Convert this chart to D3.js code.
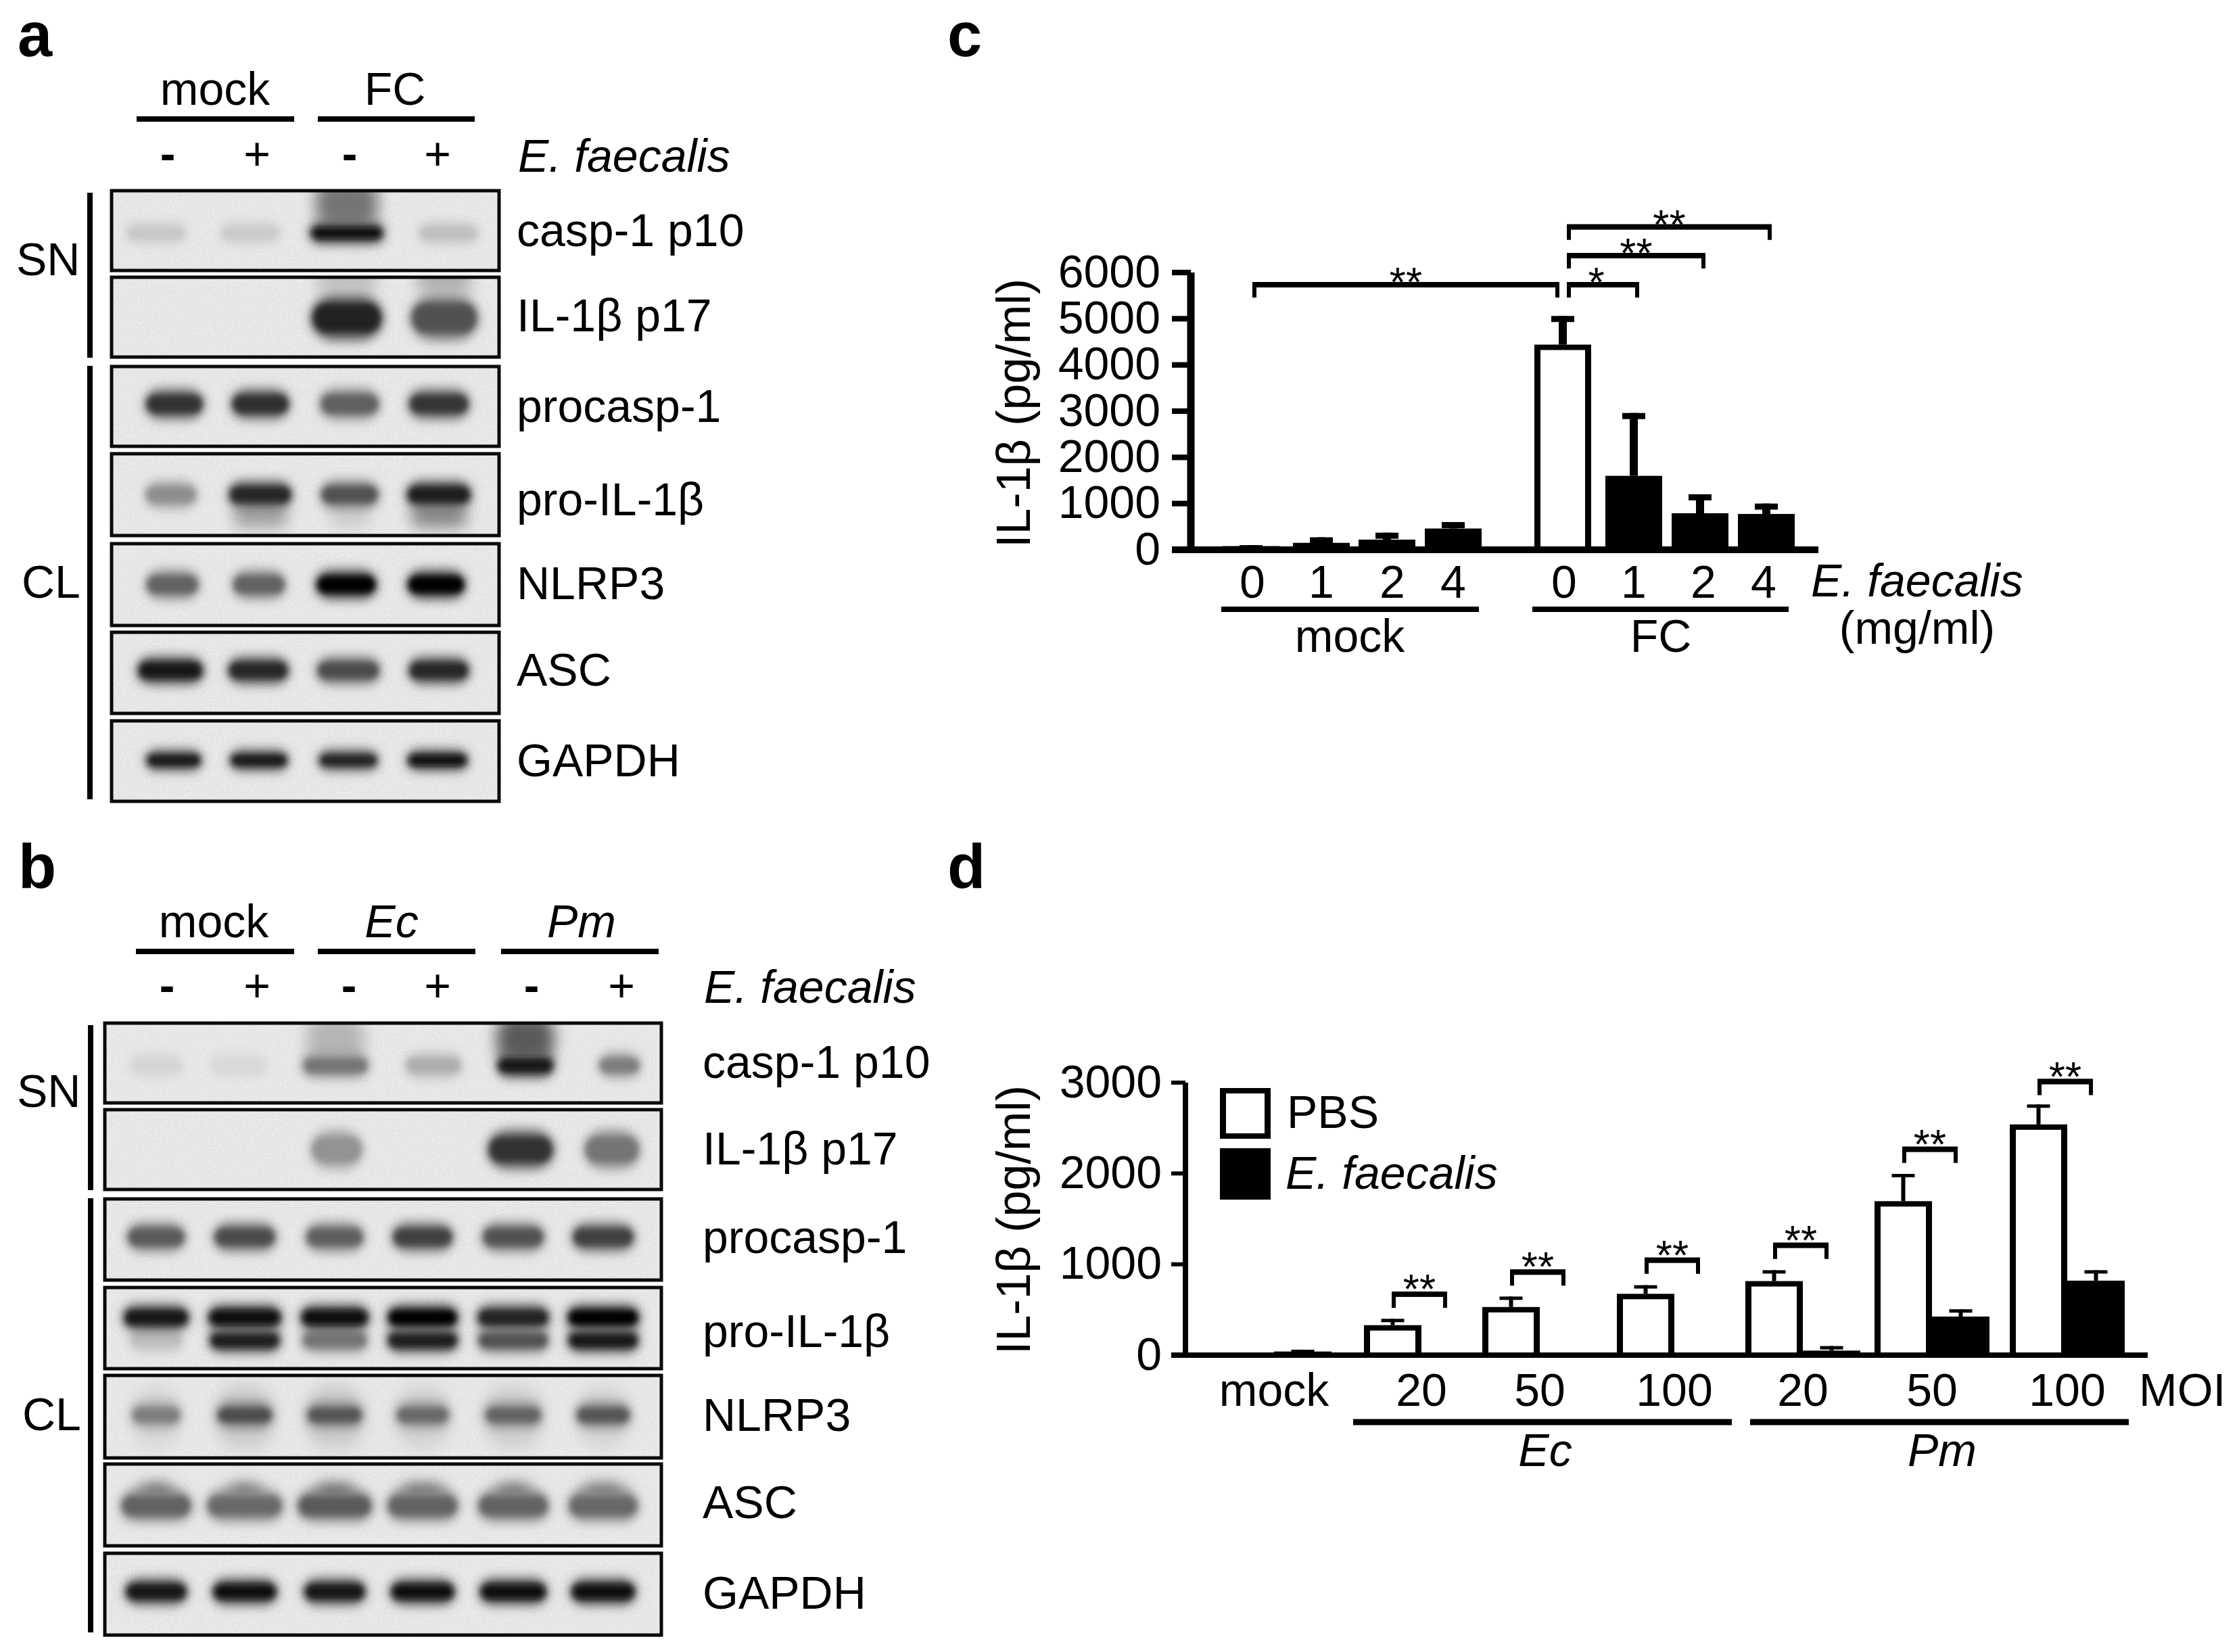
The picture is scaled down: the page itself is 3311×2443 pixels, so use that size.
<!DOCTYPE html>
<html><head><meta charset="utf-8">
<script src="https://cdn.jsdelivr.net/npm/d3@7"></script>
<style>
html,body{margin:0;background:#fff}
svg{display:block}
text{font-family:"Liberation Sans",Arial,sans-serif;fill:#000}
</style></head><body>
<svg id="fig" width="3311" height="2443" viewBox="0 0 3311 2443"></svg>
<script>
// ---------- Panel a: band intensities (0-1), lanes mock-/mock+/FC-/FC+
const lanesA = ["mock-","mock+","FC-","FC+"];
const rowLabelsA = ["casp-1 p10","IL-1β p17","procasp-1","pro-IL-1β","NLRP3","ASC","GAPDH"];
const aCasp = [.12,.11,.95,.16];
const aCaspSmear = [0,0,.5,0];
const aIL = [0,0,.88,.66];
const aILSmear = [0,0,.16,.24];
const aProcasp = [.8,.82,.6,.78];
const aProIL = [.38,.86,.66,.9];
const aProILLow = [0,.3,.1,.42];
const aNLRP3 = [.58,.58,1,1];
const aASC = [.94,.86,.68,.86];
const aGAPDH = [.92,.92,.88,.96];
// ---------- Panel b
const lanesB = ["mock-","mock+","Ec-","Ec+","Pm-","Pm+"];
const rowLabelsB = rowLabelsA;
const bCasp = [.06,.04,.5,.24,.92,.46];
const bCaspSmear = [0,0,.2,0,.62,0];
const bIL = [0,0,.36,0,.8,.5];
const bProcasp = [.62,.68,.6,.74,.66,.74];
const bProIL = [.92,.96,.95,1,.88,1];
const bProILLow = [.16,.9,.5,.9,.66,.92];
const bNLRP3 = [.46,.68,.64,.56,.58,.64];
const bNLRP3Smear = [.05,.1,.1,.07,.08,.06];
const bASC = [.58,.55,.62,.58,.58,.56];
const bGAPDH = [.93,.95,.93,.95,.97,.98];
// ---------- Panel c
const cDoses = ["0","1","2","4"];
const cMock = [80,150,220,460];
const cMockErr = [20,120,150,140];
const cFC = [4440,1600,790,775];
const cFCErr = [620,1360,410,225];
const cTicks = [0,1000,2000,3000,4000,5000,6000];
const cBrackets = [
  {from:"mock-0",to:"FC-0",level:5750,mark:"**"},
  {from:"FC-0",to:"FC-1",level:5750,mark:"*"},
  {from:"FC-0",to:"FC-2",level:6380,mark:"**"},
  {from:"FC-0",to:"FC-4",level:7000,mark:"**"}];
// ---------- Panel d
const dGroups = ["mock","Ec-20","Ec-50","Ec-100","Pm-20","Pm-50","Pm-100"];
const dPBS = [20,330,530,675,815,1695,2540];
const dPBSErr = [0,70,115,95,120,300,220];
const dEf = [40,0,0,0,50,425,820];
const dEfErr = [20,0,0,0,50,80,115];
const dTicks = [0,1000,2000,3000];
const dBrackets = [
  {group:"Ec-20",level:678},{group:"Ec-50",level:921},{group:"Ec-100",level:1052},
  {group:"Pm-20",level:1216},{group:"Pm-50",level:2273},{group:"Pm-100",level:3018}];

const FS = 68;
const svg = d3.select("#fig");
svg.append("rect").attr("width",3311).attr("height",2443).attr("fill","#fff");
const defs = svg.append("defs");
[2,5,6,8,9,11,15].forEach(s=>{
  defs.append("filter").attr("id","blur"+s)
    .attr("x","-50%").attr("y","-100%").attr("width","200%").attr("height","300%")
    .append("feGaussianBlur").attr("stdDeviation",s);
});
const noise = defs.append("filter").attr("id","noise").attr("x",0).attr("y",0).attr("width","100%").attr("height","100%");
noise.append("feTurbulence").attr("type","fractalNoise").attr("baseFrequency",.35).attr("numOctaves",2).attr("seed",4);
noise.append("feColorMatrix").attr("type","matrix").attr("values","0 0 0 0 1  0 0 0 0 1  0 0 0 0 1  0 0 0 1.6 -.62");

function txt(g,x,y,s,o={}){
  const t=g.append("text").attr("x",x).attr("y",y).attr("font-size",o.size||FS).text(s);
  if(o.anchor)t.attr("text-anchor",o.anchor);
  if(o.italic)t.attr("font-style","italic");
  if(o.bold)t.attr("font-weight","bold");
  if(o.rotate)t.attr("transform",`rotate(-90 ${x} ${y})`);
  return t;
}
function hbar(g,x0,x1,y,h){g.append("rect").attr("x",x0).attr("y",y-h/2).attr("width",x1-x0).attr("height",h).attr("fill","#000");}

const grey = d3.scaleLinear([0,1],["#e2e2e2","#060606"]).clamp(true);

function drawBlot(cfg){
  const g = svg.append("g");
  cfg.boxes.forEach((b,i)=>{
    const row=g.append("g");
    const id=cfg.id+"clip"+i;
    defs.append("clipPath").attr("id",id).append("rect")
      .attr("x",cfg.x0).attr("y",b[0]).attr("width",cfg.x1-cfg.x0).attr("height",b[1]-b[0]);
    row.append("rect").attr("x",cfg.x0).attr("y",b[0]).attr("width",cfg.x1-cfg.x0).attr("height",b[1]-b[0]).attr("fill","#e4e4e4");
    row.append("rect").attr("x",cfg.x0).attr("y",b[0]).attr("width",cfg.x1-cfg.x0).attr("height",b[1]-b[0]).attr("filter","url(#noise)").attr("opacity",.55);
    const yy=d3.scaleLinear([0,1],[b[0],b[1]]);
    const bands=row.append("g").attr("clip-path",`url(#${id})`);
    cfg.layers.filter(l=>l.row===i).forEach(l=>{
      const lane=d3.scaleOrdinal(cfg.lanes,l.pos||cfg.pos);
      const data=l.values.map((v,k)=>({v,name:cfg.lanes[k],k})).filter(d=>d.v>0);
      const wOf=d=>Array.isArray(l.w)?l.w[d.k]:l.w;
      if(!l.soft){
        bands.selectAll(null).data(data).join("rect")
          .attr("x",d=>lane(d.name)-wOf(d)/2).attr("width",wOf)
          .attr("y",yy(l.f)-l.h/2-6).attr("height",l.h+12).attr("rx",l.h/2+6)
          .attr("fill",d=>grey(d.v*.68)).attr("filter","url(#blur8)");
      }
      bands.selectAll(null).data(data).join("rect")
        .attr("x",d=>lane(d.name)-wOf(d)*(l.soft?.5:.46)).attr("width",d=>wOf(d)*(l.soft?1:.92))
        .attr("y",yy(l.f)-(l.soft?l.h/2:l.h*.38)).attr("height",l.soft?l.h:l.h*.76).attr("rx",l.h*.36)
        .attr("fill",d=>grey(d.v)).attr("filter",l.soft?"url(#blur11)":"url(#blur5)");
    });
    row.append("rect").attr("x",cfg.x0).attr("y",b[0]).attr("width",cfg.x1-cfg.x0).attr("height",b[1]-b[0])
      .attr("fill","none").attr("stroke","#0a0a0a").attr("stroke-width",5);
    txt(g,cfg.labelX,cfg.baselines[i],cfg.labels[i]);
  });
  g.append("rect").attr("x",cfg.barX-4).attr("y",cfg.sn[0]).attr("width",8).attr("height",cfg.sn[1]-cfg.sn[0]);
  g.append("rect").attr("x",cfg.barX-4).attr("y",cfg.cl[0]).attr("width",8).attr("height",cfg.cl[1]-cfg.cl[0]);
  txt(g,cfg.snX,cfg.snY,"SN");
  txt(g,cfg.clX,cfg.clY,"CL");
  cfg.groups.forEach(h=>{
    hbar(g,h.x0,h.x1,cfg.lineY,8);
    txt(g,h.tx,cfg.groupY,h.name,{anchor:"middle",italic:h.italic});
  });
  cfg.signs.forEach(s=>txt(g,s.x,cfg.signY,s.s,{anchor:"middle",bold:s.s==="-"}));
  txt(g,cfg.efX,cfg.efY,"E. faecalis",{italic:true});
}

drawBlot({
  id:"a",x0:165,x1:738,lanes:lanesA,pos:[255,385,517,649],labels:rowLabelsA,labelX:764,
  baselines:[364,490,624,762,886,1014,1148],
  boxes:[[282,400],[410,528],[542,660],[671,792],[804,925],[935,1055],[1066,1185]],
  barX:133,sn:[285,529],cl:[541,1182],snX:24,snY:407,clX:32,clY:884,
  lineY:176,groupY:155,
  groups:[{name:"mock",x0:202,x1:435,tx:318},{name:"FC",x0:470,x1:702,tx:584}],
  signY:251,signs:[{s:"-",x:248},{s:"+",x:380},{s:"-",x:517},{s:"+",x:647}],
  efX:766,efY:254,
  layers:[
    {row:0,values:aCaspSmear,f:.16,h:70,w:[0,0,92,0],soft:true,pos:[231,370,513,663]},
    {row:0,values:aCasp,f:.53,h:22,w:[90,90,112,90],pos:[231,370,513,663]},
    {row:1,values:aILSmear,f:.03,h:40,w:[0,0,90,80],soft:true,pos:[231,370,513,657]},
    {row:1,values:aIL,f:.51,h:56,w:[0,0,108,102],pos:[231,370,513,657]},
    {row:2,values:aProcasp,f:.47,h:34,w:[88,88,90,92],pos:[258,385,517,649]},
    {row:3,values:aProILLow,f:.76,h:34,w:[0,80,60,82],soft:true,pos:[253,385,517,649]},
    {row:3,values:aProIL,f:.5,h:30,w:[78,96,88,98],pos:[253,385,517,649]},
    {row:4,values:aNLRP3,f:.5,h:32,w:[80,80,92,88],pos:[255,383,512,645]},
    {row:5,values:aASC,f:.47,h:30,w:[100,92,96,92],pos:[252,382,515,649]},
    {row:6,values:aGAPDH,f:.49,h:20,w:[84,88,90,92],pos:[257,383,515,647]}
  ]
});

drawBlot({
  id:"b",x0:155,x1:978,lanes:lanesB,pos:[231,362,495,625,759,892],labels:rowLabelsB,labelX:1039,
  baselines:[1594,1722,1853,1992,2116,2245,2379],
  boxes:[[1513,1631],[1641,1759],[1773,1893],[1904,2024],[2034,2156],[2165,2286],[2297,2418]],
  barX:134,sn:[1516,1760],cl:[1772,2414],snX:25,snY:1637,clX:33,clY:2115,
  lineY:1407,groupY:1386,
  groups:[{name:"mock",x0:201,x1:435,tx:316},{name:"Ec",x0:470,x1:703,tx:579,italic:true},{name:"Pm",x0:741,x1:974,tx:860,italic:true}],
  signY:1481,signs:[{s:"-",x:247},{s:"+",x:380},{s:"-",x:516},{s:"+",x:647},{s:"-",x:786},{s:"+",x:919}],
  efX:1041,efY:1483,
  layers:[
    {row:0,values:bCaspSmear,f:.2,h:70,w:[0,0,85,0,85,0],soft:true,pos:[231,353,496,641,777,916]},
    {row:0,values:bCasp,f:.53,h:26,w:[80,85,100,85,86,62],pos:[231,353,496,641,777,916]},
    {row:1,values:bIL,f:.5,h:48,w:[0,0,78,0,100,84],pos:[231,353,498,641,770,905]},
    {row:2,values:bProcasp,f:.47,h:32,w:[88,94,88,92,94,94]},
    {row:3,values:bProILLow,f:.65,h:26,w:[80,108,100,108,108,108]},
    {row:3,values:bProIL,f:.37,h:28,w:[100,112,104,108,110,110]},
    {row:4,values:bNLRP3Smear,f:.5,h:95,w:[70,85,85,80,85,75],soft:true},
    {row:4,values:bNLRP3,f:.48,h:26,w:[74,84,84,80,86,82]},
    {row:5,values:bASC,f:.37,h:30,w:[50,50,56,60,50,60],soft:true},
    {row:5,values:bASC,f:.51,h:36,w:[108,116,114,108,108,106]},
    {row:6,values:bGAPDH,f:.47,h:28,w:[94,98,94,98,102,98]}
  ]
});

// shared bar helpers
function bar(g,cx,w,v,errV,y,open,sideW,topW,capW,capH,stemW){
  if(errV>0){
    const top=y(v+errV);
    g.append("rect").attr("x",cx-stemW/2).attr("y",top).attr("width",stemW).attr("height",y(v)-top).attr("fill","#000");
    g.append("rect").attr("x",cx-capW/2).attr("y",top).attr("width",capW).attr("height",capH).attr("fill","#000");
  }
  if(v<=0)return;
  g.append("rect").attr("x",cx-w/2).attr("y",y(v)).attr("width",w).attr("height",y(0)-y(v)).attr("fill","#000");
  if(open)g.append("rect").attr("x",cx-w/2+sideW).attr("y",y(v)+topW).attr("width",w-2*sideW).attr("height",Math.max(0,y(0)-y(v)-topW)).attr("fill","#fff");
}
function styleAxis(a,sw){
  a.selectAll("path.domain").attr("stroke","#000").attr("stroke-width",sw);
  a.selectAll(".tick line").attr("stroke","#000").attr("stroke-width",sw*.75);
  a.selectAll(".tick text").attr("font-size",FS).attr("font-family",'"Liberation Sans",Arial,sans-serif').attr("fill","#000");
}

// ---------- Panel c chart
{
  const g=svg.append("g");
  const keys=[...cDoses.map(d=>"mock-"+d),...cDoses.map(d=>"FC-"+d)];
  const x=d3.scaleOrdinal(keys,[1850,1954,2051,2149,2311,2416,2514,2612]);
  const xLab=d3.scaleOrdinal(keys,[1852,1954,2059,2149,2313,2416,2519,2608]);
  const y=d3.scaleLinear([0,6000],[813,403]);
  const vals=[...cMock,...cFC], errs=[...cMockErr,...cFCErr];
  keys.forEach((k,i)=>bar(g,x(k),84,vals[i],errs[i],y,k==="FC-0",9,8,34,9,12));
  hbar(g,1733,2689,813,10);
  const ax=g.append("g").attr("transform","translate(1761,0)")
    .call(d3.axisLeft(y).tickValues(cTicks).tickFormat(d3.format("d")).tickSize(28).tickSizeOuter(0).tickPadding(17).offset(0));
  styleAxis(ax,11);
  const bx=g.append("g").attr("transform","translate(0,832)")
    .call(d3.axisBottom(xLab).tickSize(0).tickPadding(0).tickFormat(d=>d.split("-")[1]).offset(0));
  bx.select(".domain").remove();
  bx.selectAll(".tick text").attr("font-size",FS).attr("font-family",'"Liberation Sans",Arial,sans-serif').attr("fill","#000").attr("y",0).attr("dy",52);
  hbar(g,1806,2187,901,8); hbar(g,2266,2645,901,8);
  txt(g,1996,964,"mock",{anchor:"middle"});
  txt(g,2456,964,"FC",{anchor:"middle"});
  txt(g,2678,882,"E. faecalis",{italic:true});
  txt(g,2835,952,"(mg/ml)",{anchor:"middle"});
  txt(g,1523,611,"IL-1β (pg/ml)",{anchor:"middle",rotate:true,size:70});
  cBrackets.forEach(b=>{
    const fromMock=b.from.startsWith("mock");
    const l=x(b.from)+(fromMock?5:9), r=x(b.to)+(fromMock?-8:5), t=y(b.level);
    const p=d3.path(); p.moveTo(l,t+20); p.lineTo(l,t); p.lineTo(r,t); p.lineTo(r,t+20);
    g.append("path").attr("d",p).attr("fill","none").attr("stroke","#000").attr("stroke-width",6);
    g.append("rect").attr("x",l-3).attr("y",t-3).attr("width",r-l+6).attr("height",8);
    txt(g,b.mark==="*"?(l+r)/2-10:(l+r)/2,t+18,b.mark,{anchor:"middle",size:62});
  });
}

// ---------- Panel d chart
{
  const g=svg.append("g");
  const x=d3.scaleOrdinal(dGroups,[1884,2102,2277,2476,2666,2857,3057]);
  const y=d3.scaleLinear([0,3000],[2004,1601]);
  const w=85;
  dGroups.forEach((k,i)=>{
    bar(g,x(k)-w/2,w,dPBS[i],dPBSErr[i],y,k!=="mock",9,8,34,5,6);
    bar(g,x(k)+w/2,w,dEf[i],dEfErr[i],y,false,0,0,34,5,6);
  });
  hbar(g,1732,3176,2004,8);
  const ax=g.append("g").attr("transform","translate(1753,0)")
    .call(d3.axisLeft(y).tickValues(dTicks).tickFormat(d3.format("d")).tickSize(21).tickSizeOuter(0).tickPadding(14).offset(0));
  styleAxis(ax,8);
  const bx=g.append("g").attr("transform","translate(0,2027)")
    .call(d3.axisBottom(x).tickSize(0).tickPadding(0).tickFormat(d=>d.includes("-")?d.split("-")[1]:d).offset(0));
  bx.select(".domain").remove();
  bx.selectAll(".tick text").attr("font-size",FS).attr("font-family",'"Liberation Sans",Arial,sans-serif').attr("fill","#000").attr("y",0).attr("dy",52);
  txt(g,3163,2079,"MOI");
  hbar(g,2001,2561,2103,9); hbar(g,2588,3148,2103,9);
  txt(g,2285,2168,"Ec",{anchor:"middle",italic:true});
  txt(g,2872,2168,"Pm",{anchor:"middle",italic:true});
  txt(g,1523,1804,"IL-1β (pg/ml)",{anchor:"middle",rotate:true,size:70});
  // legend
  g.append("rect").attr("x",1804).attr("y",1609).attr("width",75).attr("height",75).attr("fill","#000");
  g.append("rect").attr("x",1813).attr("y",1617).attr("width",57).attr("height",59).attr("fill","#fff");
  g.append("rect").attr("x",1804).attr("y",1698).attr("width",75).attr("height",76).attr("fill","#000");
  txt(g,1903,1668,"PBS");
  txt(g,1901,1758,"E. faecalis",{italic:true});
  dBrackets.forEach(b=>{
    const c=x(b.group)-3, l=c-38, r=c+38, t=y(b.level);
    const p=d3.path(); p.moveTo(l,t+21); p.lineTo(l,t); p.lineTo(r,t); p.lineTo(r,t+21);
    g.append("path").attr("d",p).attr("fill","none").attr("stroke","#000").attr("stroke-width",6);
    g.append("rect").attr("x",l-3).attr("y",t-3).attr("width",r-l+6).attr("height",8);
    txt(g,c,t+14,"**",{anchor:"middle",size:62});
  });
}

// panel letters
[["a",26,83],["b",27,1313],["c",1401,83],["d",1401,1313]].forEach(([s,x,y])=>txt(svg,x,y,s,{bold:true,size:92}));
</script>
</body></html>
